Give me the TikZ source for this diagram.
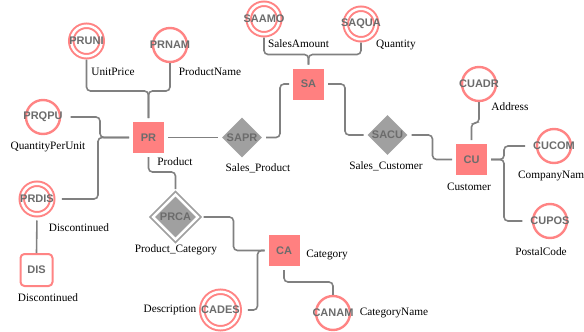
\documentclass[tikz,border=0pt]{standalone}
\usepackage{fontspec}
\setmainfont{Liberation Serif}
\newfontfamily\keyfont{Liberation Sans}
\usetikzlibrary{shapes.geometric}

\definecolor{entfill}{RGB}{255,128,128}
\definecolor{ringpink}{RGB}{255,132,132}
\definecolor{relgray}{RGB}{160,160,160}
\definecolor{txtgray}{RGB}{108,108,108}
\definecolor{wire}{RGB}{128,128,128}

\begin{document}
\begin{tikzpicture}[x=1pt,y=-1pt,
  keytext/.style={font=\keyfont\bfseries\fontsize{11}{13}\selectfont, text=txtgray},
  conn/.style={draw=wire, line width=1.6pt, rounded corners=4pt},
  entity/.style={rectangle, fill=entfill, minimum size=31pt, inner sep=0pt, outer sep=4pt, keytext},
  weakent/.style={rectangle, rounded corners=4pt, draw=ringpink, fill=white, line width=2pt,
    minimum size=32pt, inner sep=0pt, outer sep=1pt, keytext},
  rel/.style={diamond, fill=relgray, minimum width=42pt, minimum height=42pt, inner sep=0pt, outer sep=3pt, keytext},
  weakrel/.style={rel, draw=relgray, line width=1.8pt, double=white, double distance=2.5pt,
    minimum width=48pt, minimum height=48pt, outer sep=4pt},
  ring/.style={circle, draw=ringpink, line width=2.4pt, minimum size=34pt, inner sep=0pt, outer sep=1.2pt},
  dring/.style={circle, draw=ringpink, line width=2pt, double=white, double distance=2.5pt,
    minimum size=30.5pt, inner sep=0pt, outer sep=3.25pt},
  attr/.style={keytext, inner xsep=8pt, inner ysep=2pt, outer sep=0pt},
  lbl/.style={font=\fontsize{11.3}{13}\selectfont, inner sep=0pt}
]
\useasboundingbox (0,0) rectangle (584,332);

% attribute rings
\node[dring] (PRUNI-ring) at (86.5,41) {};
\node[ring]  (PRNAM-ring) at (170,45) {};
\node[dring] (SAAMO-ring) at (264,19) {};
\node[dring] (SAQUA-ring) at (361,24) {};
\node[ring]  (PRQPU-ring) at (43,117) {};
\node[ring]  (CUADR-ring) at (479,84) {};
\node[ring]  (CUCOM-ring) at (554,146) {};
\node[ring]  (CUPOS-ring) at (550,221) {};
\node[dring] (PRDIS-ring) at (37,199) {};
\node[dring, minimum size=36.5pt] (CADES-ring) at (220.5,310) {};
\node[ring]  (CANAM-ring) at (333,313) {};

% attribute names
\node[attr] (PRUNI) at (86.5,41) {PRUNI};
\node[attr] (PRNAM) at (170,45) {PRNAM};
\node[attr] (SAAMO) at (264,19) {SAAMO};
\node[attr] (SAQUA) at (361,24) {SAQUA};
\node[attr] (PRQPU) at (43,117) {PRQPU};
\node[attr] (CUADR) at (479,84) {CUADR};
\node[attr] (CUCOM) at (554,146) {CUCOM};
\node[attr] (CUPOS) at (550,221) {CUPOS};
\node[attr] (PRDIS) at (37,199) {PRDIS};
\node[attr] (CADES) at (220.5,310) {CADES};
\node[attr] (CANAM) at (333,313) {CANAM};

% entities
\node[entity] (PR) at (148.5,137.5) {PR};
\node[entity] (SA) at (308.5,84) {SA};
\node[entity] (CU) at (471.5,159.5) {CU};
\node[entity] (CA) at (284,250.5) {CA};
\node[weakent] (DIS) at (36.5,270) {DIS};

% relationships
\node[rel] (SAPR) at (242,137.5) {SAPR};
\node[rel] (SACU) at (387.5,135) {SACU};
\node[weakrel] (PRCA) at (175.5,217) {PRCA};

% connectors
\draw[conn] (PR.north) -- ++(0,-27) -| (PRUNI-ring.south);
\draw[conn] (PR.north) -- ++(0,-27) -| (PRNAM-ring.south);
\draw[conn] (PR.west) -- ++(-29,0) |- (PRQPU.east);
\draw[conn] (PR.west) -- ++(-31,0) |- (PRDIS.east);
\draw[conn, shorten <=3pt] (PRDIS-ring.south) -- (DIS.north);
\draw[conn] (PR.east) -- (SAPR.west);
\draw[conn] (SAPR.east) -- ++(14,0) |- (SA.west);
\draw[conn] (SA.north) -- ++(0,-10) -| (SAAMO-ring.south);
\draw[conn] (SA.north) -- ++(0,-10) -| (SAQUA-ring.south);
\draw[conn] (SA.east) -- ++(17,0) |- (SACU.west);
\draw[conn] (SACU.east) -- ++(21,0) |- (CU.west);
\draw[conn] (CU.north) -- ++(0,-17) -| (CUADR-ring.south);
\draw[conn] (CU.east) -- ++(13,0) |- (CUCOM.west);
\draw[conn] (CU.east) -- ++(13,0) |- (CUPOS.west);
\draw[conn] (PR.south) -- ++(0,15) -| (PRCA.north);
\draw[conn] (PRCA.east) -- ++(30,0) |- (CA.west);
\draw[conn] (CA.west) -- ++(-7,0) |- (CADES.east);
\draw[conn] (CA.south) -- ++(0,12) -| (CANAM-ring.north);

% labels
\node[lbl] (l-unitprice) at (113,72) {UnitPrice};
\node[lbl] (l-productname) at (210,72) {ProductName};
\node[lbl] (l-salesamount) at (298.5,44) {SalesAmount};
\node[lbl] (l-quantity) at (396,45) {Quantity};
\node[lbl] (l-qpu) at (48,147) {QuantityPerUnit};
\node[lbl] (l-product) at (175,162) {Product};
\node[lbl] (l-salesproduct) at (258,168) {Sales\_Product};
\node[lbl] (l-salescustomer) at (386,166) {Sales\_Customer};
\node[lbl] (l-address) at (510,107) {Address};
\node[lbl] (l-customer) at (469,187) {Customer};
\node[lbl, anchor=west] (l-companyname) at (518,176) {CompanyName};
\node[lbl] (l-postalcode) at (541,252) {PostalCode};
\node[lbl] (l-category) at (327,255) {Category};
\node[lbl] (l-categoryname) at (394,313) {CategoryName};
\node[lbl] (l-discontinued) at (79,228) {Discontinued};
\node[lbl] (l-dis) at (48,298) {Discontinued};
\node[lbl] (l-productcategory) at (176,250) {Product\_Category};
\node[lbl] (l-description) at (170,310) {Description};
\end{tikzpicture}
\end{document}
